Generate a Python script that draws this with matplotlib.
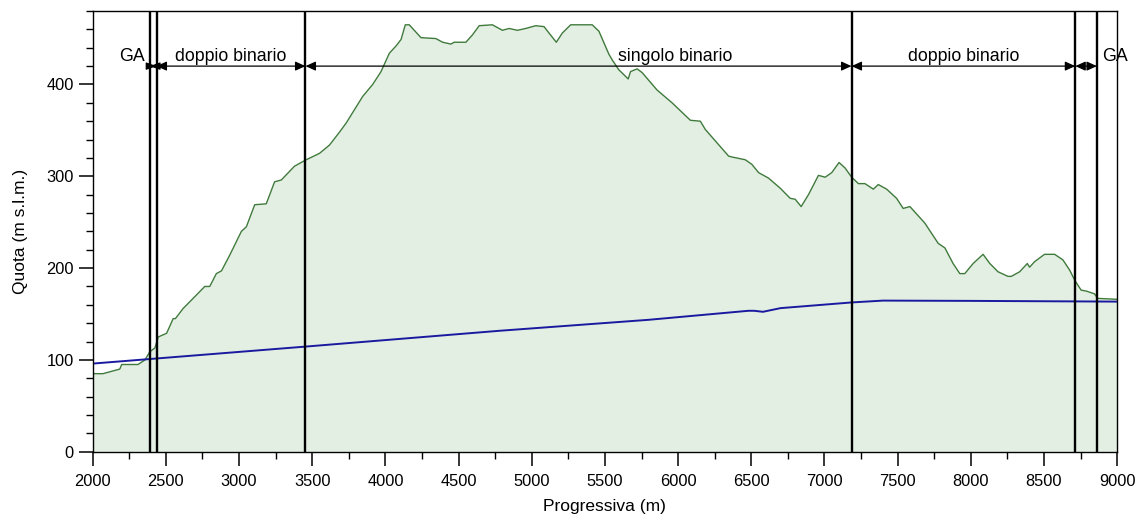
import matplotlib
matplotlib.use("Agg")
import matplotlib.pyplot as plt
from matplotlib.ticker import MultipleLocator

plt.rcParams['font.family'] = ['Liberation Sans', 'DejaVu Sans']

# profilo del terreno (progressiva m, quota m s.l.m.)
terreno_x = [2000, 2070, 2185, 2198, 2310, 2357, 2391, 2425, 2448, 2505, 2550, 2565,
             2618, 2686, 2766, 2800, 2845, 2880, 2936, 3016, 3050, 3107, 3186, 3243,
             3289, 3379, 3459, 3550, 3618, 3686, 3732, 3845, 3913, 3970, 4027, 4073,
             4107, 4136, 4163, 4243, 4345, 4391, 4448, 4470, 4550, 4595, 4641, 4731,
             4800, 4845, 4902, 4959, 5027, 5084, 5118, 5168, 5209, 5266, 5413, 5459,
             5527, 5549, 5595, 5659, 5675, 5720, 5754, 5856, 5959, 6084, 6152, 6186,
             6345, 6368, 6459, 6504, 6550, 6618, 6698, 6766, 6800, 6841, 6891, 6959,
             7005, 7050, 7100, 7141, 7186, 7232, 7277, 7334, 7368, 7425, 7493, 7538,
             7584, 7686, 7777, 7823, 7879, 7925, 7959, 8016, 8084, 8130, 8186, 8254,
             8277, 8334, 8386, 8402, 8436, 8504, 8573, 8629, 8675, 8713, 8754, 8788,
             8845, 8868, 9000]
terreno_y = [85, 85, 90, 95, 95, 100, 109, 113, 125, 129, 145, 145,
             156, 167, 180, 180, 194, 197, 214, 240, 245, 269, 270, 294,
             296, 311, 318, 325, 334, 348, 358, 387, 400, 414, 434, 442,
             449, 465, 465, 451, 450, 446, 444, 446, 446, 454, 464, 465,
             459, 461, 459, 461, 464, 463, 456, 446, 456, 465, 465, 458,
             433, 427, 416, 406, 414, 417, 413, 394, 380, 361, 360, 351,
             322, 321, 318, 313, 304, 298, 287, 276, 275, 267, 280, 301,
             299, 304, 315, 309, 299, 292, 292, 286, 291, 286, 276, 265,
             267, 249, 227, 222, 205, 194, 194, 205, 215, 205, 196, 191,
             191, 196, 205, 201, 207, 215, 215, 209, 198, 186, 176, 175,
             172, 167, 166]

# livelletta di progetto
linea_x = [2000, 3454, 4777, 5800, 6480, 6520, 6580, 6700, 7186, 7400, 8000, 9000]
linea_y = [96, 114.5, 131.7, 143.7, 153.5, 153.5, 152.4, 156.4, 162.6, 164.6, 164.3, 163.5]

# limiti dei tratti
limiti = [2390, 2436, 3454, 7185, 8714, 8862]
tratti = ["GA", "doppio binario", "singolo binario", "doppio binario", "GA"]
pos_testo = [2268, 2945, 5980, 7950, 8985]

fig = plt.figure(figsize=(11.36, 5.2), dpi=100)
ax = fig.add_axes([0.0816, 0.1313, 0.9018, 0.8475])

ax.fill_between(terreno_x, 0, terreno_y, color='#e3efe2', lw=0)
ax.plot(terreno_x, terreno_y, color='#3f7a3c', lw=1.0)
ax.plot(linea_x, linea_y, color='#1a1aa0', lw=1.4)

for x in limiti:
    ax.axvline(x, color='black', lw=1.7)

y_quota = 420
for i in range(len(tratti)):
    a, b = limiti[i], limiti[i + 1]
    hw = 0.25 if b - a > 100 else 0.2
    ax.annotate("", xy=(b, y_quota), xytext=(a, y_quota),
                arrowprops=dict(arrowstyle=f"<|-|>,head_length=0.55,head_width={hw}",
                                color='black', lw=0.9, shrinkA=0, shrinkB=0,
                                mutation_scale=11))
    ax.text(pos_testo[i], 426, tratti[i], ha='center', va='baseline', fontsize=12.8)

ax.set_xlim(2000, 9000)
ax.set_ylim(0, 480)
ax.xaxis.set_major_locator(MultipleLocator(500))
ax.xaxis.set_minor_locator(MultipleLocator(250))
ax.yaxis.set_major_locator(MultipleLocator(100))
ax.yaxis.set_minor_locator(MultipleLocator(20))
ax.tick_params(which='major', length=10, width=1.1, labelsize=11.8)
ax.tick_params(axis='x', which='major', pad=6)
ax.tick_params(which='minor', length=5, width=1.0)
for s in ax.spines.values():
    s.set_linewidth(1.0)

ax.set_xlabel("Progressiva (m)", fontsize=12.5, labelpad=7)
ax.set_ylabel("Quota (m s.l.m.)", fontsize=12.5, labelpad=13)

fig.savefig("out.png", dpi=100)
